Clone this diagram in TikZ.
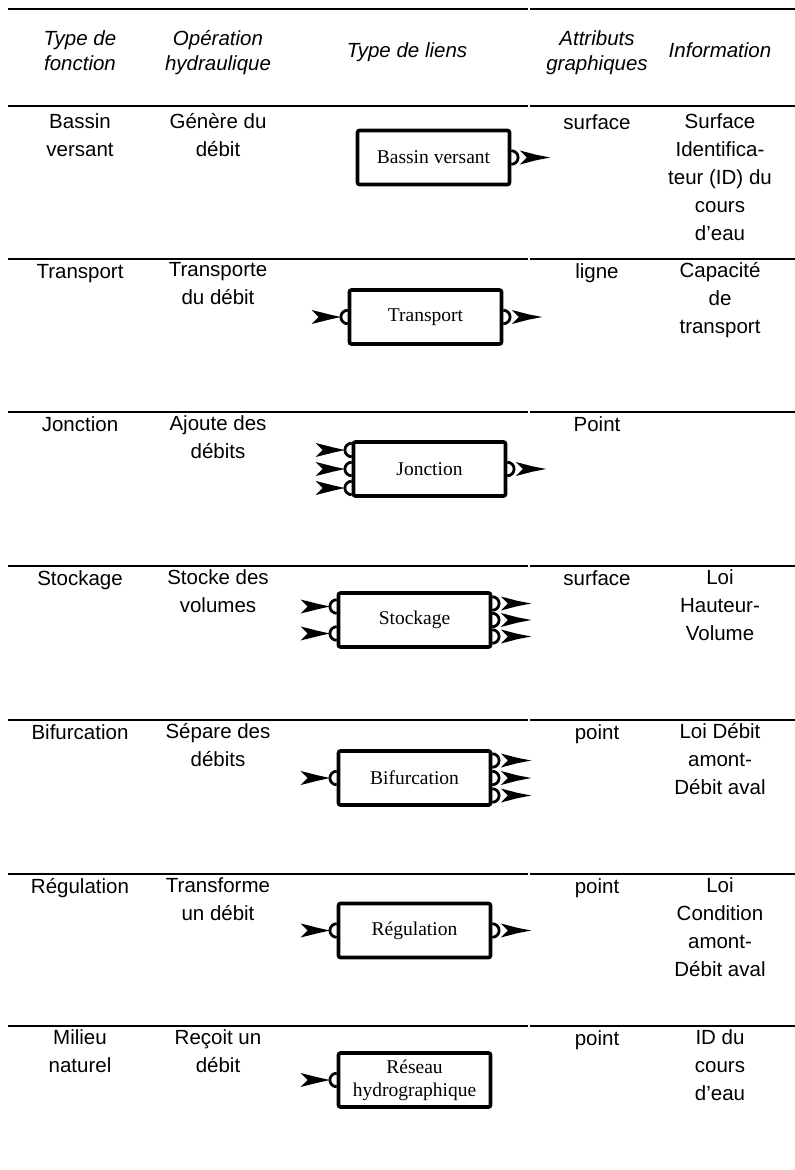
\documentclass[tikz,border=0pt]{standalone}
\usepackage{fontspec}
\setmainfont{Liberation Sans}
\newfontfamily\boxfont{Liberation Serif}
\begin{document}
\begin{tikzpicture}[x=1pt,y=-1pt,
  rule/.style={line width=1.1pt},
  hd/.style={anchor=north, inner sep=0pt, align=center, font=\fontsize{20.5}{25}\selectfont\itshape, execute at begin node=\rule{0pt}{16pt}},
  cell/.style={anchor=north, inner sep=0pt, align=center, font=\fontsize{20.5}{28}\selectfont, execute at begin node=\rule{0pt}{16pt}},
  fnbox/.style={draw, line width=3.6pt, rounded corners=2pt, minimum width=152pt, minimum height=54pt, inner sep=2pt, align=center, font=\boxfont\fontsize{19.5}{23}\selectfont},
  port/.style={line width=2.8pt},
  inport/.pic={
    \draw[port] (0,6.8pt) arc[start angle=90,end angle=270,radius=6.8pt];
    \fill (-6.8pt,0) -- (-19pt,2.7pt) -- (-36pt,7pt) -- (-29pt,0) -- (-36pt,-7pt) -- (-19pt,-2.7pt) -- cycle;
  },
  outport/.pic={
    \draw[port] (0,6.8pt) arc[start angle=90,end angle=-90,radius=6.8pt];
    \fill (39pt,0) -- (25pt,2.7pt) -- (8.5pt,7pt) -- (15.5pt,0) -- (8.5pt,-7pt) -- (25pt,-2.7pt) -- cycle;
  }
]
\useasboundingbox (0,0) rectangle (795,1170);

% horizontal rules
\foreach \y in {9,106,259,412,566,720,874,1026}{
  \draw[rule] (8,\y) -- (528,\y);
  \draw[rule] (530,\y) -- (795,\y);
}

% header
\node[hd] (h1) at (80,30) {Type de\\fonction};
\node[hd] (h2) at (218,30) {Opération\\hydraulique};
\node[hd] (h3) at (407,41) {Type de liens};
\node[hd] (h4) at (597,30) {Attributs\\graphiques};
\node[hd] (h5) at (720,41) {Information};

% row 1
\node[cell] (a1) at (80,113) {Bassin\\versant};
\node[cell] (a2) at (218,113) {Génère du\\débit};
\node[cell] (a4) at (597,113) {surface};
\node[cell] (a5) at (720,113) {Surface\\Identifica-\\teur (ID) du\\cours\\d’eau};
\node[fnbox] (ba) at (433.5,157.5) {Bassin versant};
\pic at (ba.east) {outport};

% row 2
\node[cell] (b1) at (80,262) {Transport};
\node[cell] (b2) at (218,262) {Transporte\\du débit};
\node[cell] (b4) at (597,262) {ligne};
\node[cell] (b5) at (720,262) {Capacité\\de\\transport};
\node[fnbox] (bb) at (425.5,317) {Transport};
\pic at (bb.west) {inport};
\pic at (bb.east) {outport};

% row 3
\node[cell] (c1) at (80,415) {Jonction};
\node[cell] (c2) at (218,415) {Ajoute des\\débits};
\node[cell] (c4) at (597,415) {Point};
\node[fnbox] (bc) at (429.5,469) {Jonction};
\pic at ([yshift=19pt]bc.west) {inport};
\pic at (bc.west) {inport};
\pic at ([yshift=-19pt]bc.west) {inport};
\pic at (bc.east) {outport};

% row 4
\node[cell] (d1) at (80,569) {Stockage};
\node[cell] (d2) at (218,569) {Stocke des\\volumes};
\node[cell] (d4) at (597,569) {surface};
\node[cell] (d5) at (720,569) {Loi\\Hauteur-\\Volume};
\node[fnbox] (bd) at (414.5,620) {Stockage};
\pic at ([yshift=13.5pt]bd.west) {inport};
\pic at ([yshift=-13.5pt]bd.west) {inport};
\pic at ([yshift=16.5pt]bd.east) {outport};
\pic at (bd.east) {outport};
\pic at ([yshift=-16.5pt]bd.east) {outport};

% row 5
\node[cell] (e1) at (80,723) {Bifurcation};
\node[cell] (e2) at (218,723) {Sépare des\\débits};
\node[cell] (e4) at (597,723) {point};
\node[cell] (e5) at (720,723) {Loi Débit\\amont-\\Débit aval};
\node[fnbox] (be) at (414.5,778) {Bifurcation};
\pic at (be.west) {inport};
\pic at ([yshift=17.5pt]be.east) {outport};
\pic at (be.east) {outport};
\pic at ([yshift=-17.5pt]be.east) {outport};

% row 6
\node[cell] (f1) at (80,877) {Régulation};
\node[cell] (f2) at (218,877) {Transforme\\un débit};
\node[cell] (f4) at (597,877) {point};
\node[cell] (f5) at (720,877) {Loi\\Condition\\amont-\\Débit aval};
\node[fnbox] (bf) at (414.5,930.5) {Régulation};
\pic at (bf.west) {inport};
\pic at (bf.east) {outport};

% row 7
\node[cell] (g1) at (80,1029) {Milieu\\naturel};
\node[cell] (g2) at (218,1029) {Reçoit un\\débit};
\node[cell] (g4) at (597,1029) {point};
\node[cell] (g5) at (720,1029) {ID du\\cours\\d’eau};
\node[fnbox] (bg) at (414.5,1080) {Réseau\\hydrographique};
\pic at (bg.west) {inport};
\end{tikzpicture}
\end{document}
